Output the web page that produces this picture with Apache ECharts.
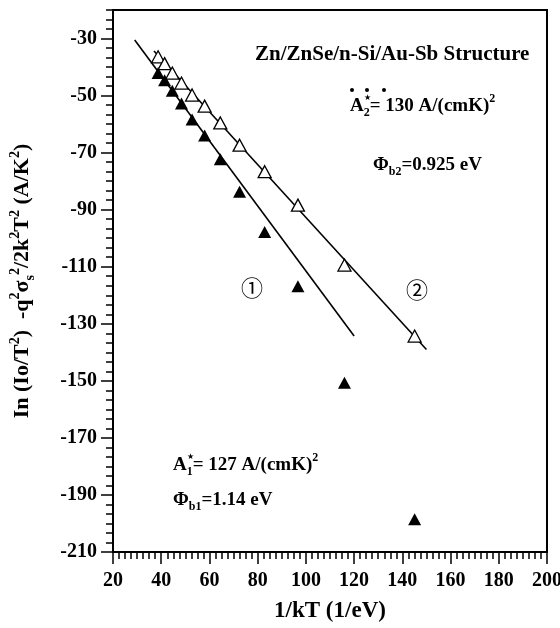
<!DOCTYPE html>
<html>
<head>
<meta charset="utf-8">
<script src="https://cdn.jsdelivr.net/npm/echarts@6/dist/echarts.min.js"></script>
<style>
  html, body { margin: 0; padding: 0; background: #fff; }
  #chart { width: 560px; height: 628px; }
</style>
</head>
<body>
<div id="chart"></div>
<script>
// 1/kT (1/eV) at each measurement temperature (300 K down to 80 K)
const inverseKT = [38.7, 41.4, 44.6, 48.4, 52.8, 58.0, 64.5, 72.5, 82.9, 96.7, 116.0, 145.1];
// Curve 1: filled triangles
const curve1 = [-42.1, -44.6, -48.3, -52.8, -58.4, -64.0, -72.3, -83.7, -97.8, -116.8, -150.7, -198.5];
// Curve 2: open triangles
const curve2 = [-36.4, -38.8, -42.1, -45.6, -49.8, -53.7, -59.6, -67.4, -76.7, -88.4, -109.4, -134.3];
// Straight-line fits (end points)
const fit1X = [29, 120];
const fit1Y = [-30.5, -134.3];
const fit2X = [37, 150];
const fit2Y = [-34.4, -139.0];
// Axis tick labels
const xTickLabels = [20, 40, 60, 80, 100, 120, 140, 160, 180, 200];
const yTickLabels = [-30, -50, -70, -90, -110, -130, -150, -170, -190, -210];

const SERIF = "'Liberation Serif', 'Times New Roman', serif";
const pairs = (xs, ys) => xs.map((x, i) => [x, ys[i]]);

const chart = echarts.init(document.getElementById('chart'), null, { renderer: 'canvas' });

function richSet(size, small) {
  return {
    base: { fontFamily: SERIF, fontWeight: 'bold', fontSize: size, lineHeight: size + 7, verticalAlign: 'middle', color: '#000' },
    sup: { fontFamily: SERIF, fontWeight: 'bold', fontSize: small, lineHeight: small, verticalAlign: 'top', color: '#000' },
    sub: { fontFamily: SERIF, fontWeight: 'bold', fontSize: small, lineHeight: small, verticalAlign: 'bottom', color: '#000' }
  };
}
const noteRich = richSet(19, 12);

function label(x, y, text, extra) {
  return {
    type: 'text', x: x, y: y, z: 50,
    style: Object.assign({
      text: text,
      fill: '#000',
      font: 'bold 19px ' + SERIF,
      align: 'left', verticalAlign: 'middle',
      textAlign: 'left', textVerticalAlign: 'middle',
      rich: noteRich
    }, extra || {})
  };
}

const option = {
  backgroundColor: '#fff',
  animation: false,
  grid: {
    left: 113, right: 13, top: 10, bottom: 76,
    containLabel: false, outerBoundsMode: 'none',
    show: true, borderColor: '#000', borderWidth: 2, backgroundColor: '#fff'
  },
  xAxis: {
    type: 'value', min: 20, max: 200, interval: 20,
    position: 'bottom',
    name: '1/kT (1/eV)', nameLocation: 'middle', nameGap: 48,
    nameTextStyle: { fontFamily: SERIF, fontWeight: 'bold', fontSize: 23, color: '#000' },
    axisLine: { onZero: false, lineStyle: { color: '#000', width: 2 } },
    axisTick: { show: true, inside: false, length: 12, lineStyle: { color: '#000', width: 1.5 } },
    minorTick: { show: true, splitNumber: 8, length: 7, lineStyle: { color: '#000', width: 1.5 } },
    splitLine: { show: false },
    axisLabel: {
      margin: 19, fontFamily: SERIF, fontWeight: 'bold', fontSize: 20, color: '#000',
      formatter: v => xTickLabels.indexOf(Math.round(v)) >= 0 ? String(Math.round(v)) : ''
    }
  },
  yAxis: [
    {
      type: 'value', min: -210, max: -20, interval: 20,
      position: 'left',
      name: '{base|In (Io/T}{sup|2}{base|)  -q}{sup|2}{base|σ}{sub|s}{sup|2}{base|/2k}{sup|2}{base|T}{sup|2}{base| (A/K}{sup|2}{base|)}',
      nameLocation: 'middle', nameGap: 76,
      nameTextStyle: { color: '#000', rich: richSet(22, 14) },
      axisLine: { onZero: false, lineStyle: { color: '#000', width: 2 } },
      axisTick: { show: true, inside: false, length: 12, lineStyle: { color: '#000', width: 1.5 } },
      splitLine: { show: false },
      axisLabel: {
        margin: 16, showMaxLabel: false,
        fontFamily: SERIF, fontWeight: 'bold', fontSize: 20, color: '#000',
        formatter: v => yTickLabels.indexOf(Math.round(v)) >= 0 ? String(Math.round(v)) : ''
      }
    },
    {
      // minor ticks of the value axis
      type: 'value', min: -210, max: -20, interval: 10 / 3,
      position: 'left',
      axisLine: { show: false },
      axisTick: { show: true, inside: false, length: 7, lineStyle: { color: '#000', width: 1.5 } },
      axisLabel: { show: false },
      splitLine: { show: false }
    }
  ],
  series: [
    {
      name: 'fit 1', type: 'line', data: pairs(fit1X, fit1Y), yAxisIndex: 0,
      symbol: 'none', lineStyle: { color: '#000', width: 1.6 }, z: 2, silent: true
    },
    {
      name: 'fit 2', type: 'line', data: pairs(fit2X, fit2Y), yAxisIndex: 0,
      symbol: 'none', lineStyle: { color: '#000', width: 1.6 }, z: 2, silent: true
    },
    {
      name: 'curve 1', type: 'scatter', data: pairs(inverseKT, curve1), yAxisIndex: 0,
      symbol: 'triangle', symbolSize: [13, 12],
      itemStyle: { color: '#000', borderColor: '#000', borderWidth: 0, opacity: 1 }, z: 3
    },
    {
      name: 'curve 2', type: 'scatter', data: pairs(inverseKT, curve2), yAxisIndex: 0,
      symbol: 'triangle', symbolSize: [13, 12],
      itemStyle: { color: '#fff', borderColor: '#000', borderWidth: 1.3, opacity: 1 }, z: 4
    }
  ],
  graphic: [
    label(255, 55, 'Zn/ZnSe/n-Si/Au-Sb Structure', { font: 'bold 21px ' + SERIF }),
    { type: 'circle', shape: { cx: 352, cy: 90, r: 2 }, style: { fill: '#000' }, z: 50 },
    { type: 'circle', shape: { cx: 367, cy: 90, r: 2 }, style: { fill: '#000' }, z: 50 },
    { type: 'circle', shape: { cx: 384, cy: 90, r: 2 }, style: { fill: '#000' }, z: 50 },
    label(350, 106, '{base|A}{sub|2}{base|= 130 A/(cmK)}{sup|2}'),
    label(367, 98, '★', { font: '8px ' + SERIF, align: 'center', textAlign: 'center' }),
    label(373, 165, '{base|Φ}{sub|b2}{base|=0.925 eV}'),
    label(173, 465, '{base|A}{sub|1}{base|= 127 A/(cmK)}{sup|2}'),
    label(190, 457, '★', { font: '8px ' + SERIF, align: 'center', textAlign: 'center' }),
    label(173, 500, '{base|Φ}{sub|b1}{base|=1.14 eV}'),
    label(252, 288, '①', { font: '22px "Noto Sans CJK JP"', align: 'center', textAlign: 'center' }),
    label(417, 290, '②', { font: '22px "Noto Sans CJK JP"', align: 'center', textAlign: 'center' })
  ]
};

chart.setOption(option);
</script>
</body>
</html>
